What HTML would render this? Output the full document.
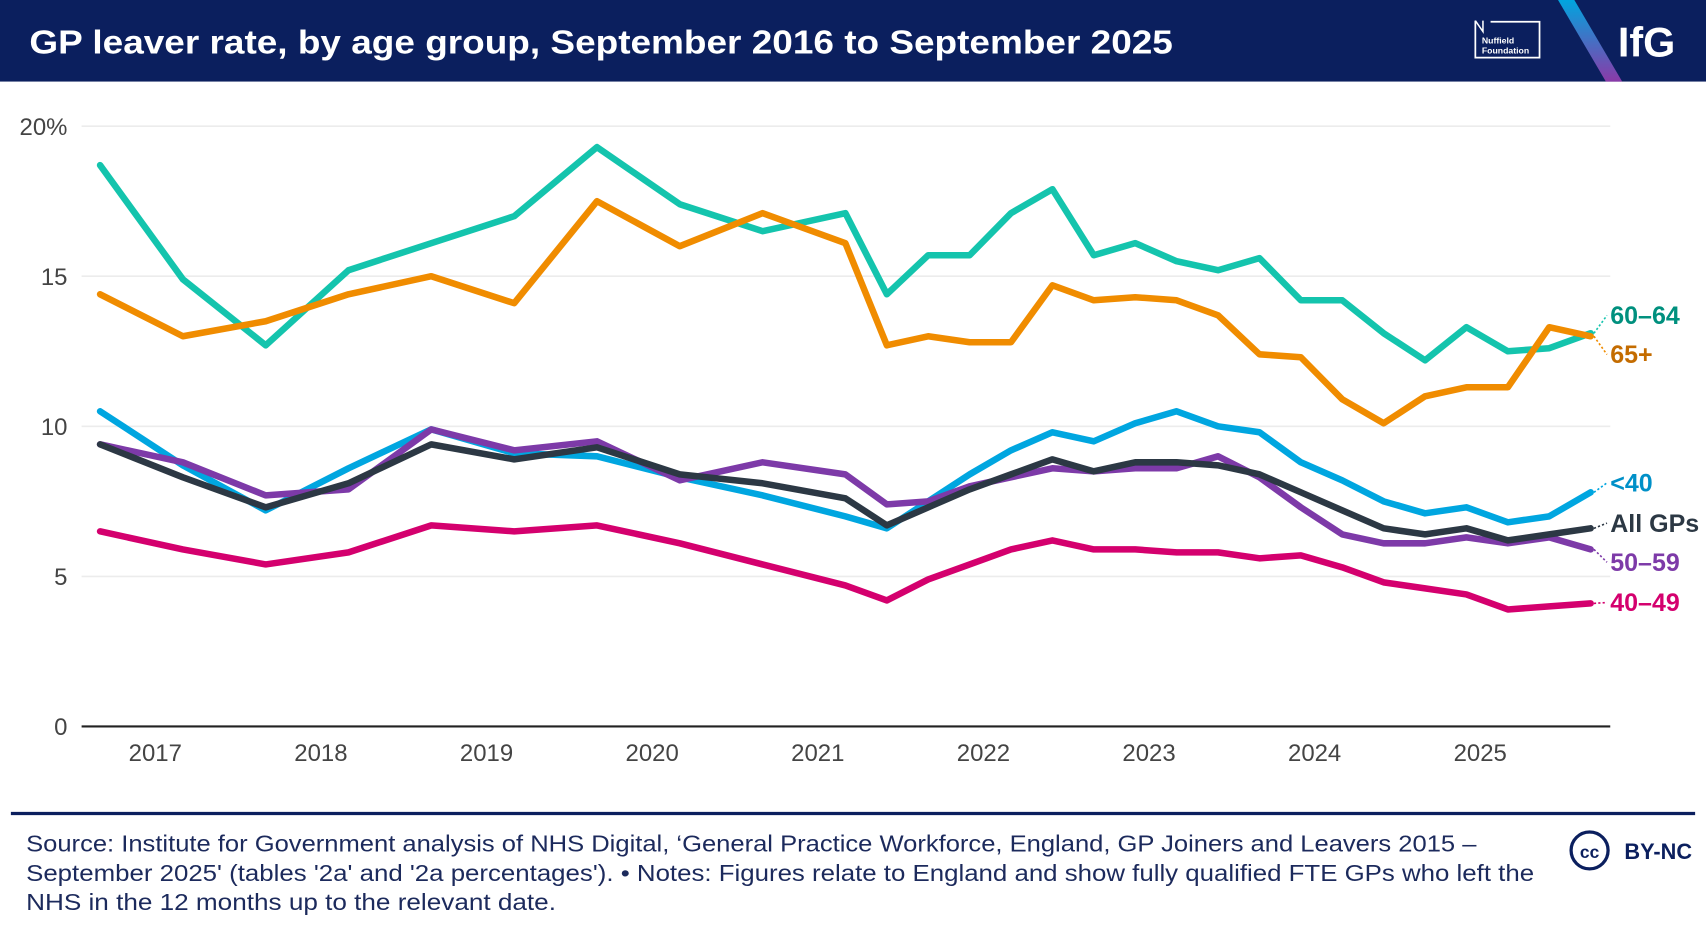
<!DOCTYPE html>
<html><head><meta charset="utf-8"><style>
html,body{margin:0;padding:0;background:#fff;}
svg{display:block;font-family:"Liberation Sans",sans-serif;}
</style></head><body>
<svg id="chart" width="1706" height="932" viewBox="0 0 1568 857" preserveAspectRatio="none" xmlns="http://www.w3.org/2000/svg">
<rect x="0" y="0" width="1568" height="75" fill="#0b1f5e"/>
<text x="27" y="49" fill="#fff" font-size="31" font-weight="bold" textLength="1051" lengthAdjust="spacingAndGlyphs">GP leaver rate, by age group, September 2016 to September 2025</text>
<g>
<path d="M1356 19 V53 H1415 V20 H1370" fill="none" stroke="#fff" stroke-width="1.6"/>
<path d="M1356 19 L1363 29 V19" fill="none" stroke="#fff" stroke-width="1.4"/>
<text x="1362" y="40" fill="#fff" font-size="8" font-weight="bold">Nuffield</text>
<text x="1362" y="49" fill="#fff" font-size="8" font-weight="bold">Foundation</text>
</g>
<defs><linearGradient id="g1" x1="0" y1="0" x2="0" y2="1"><stop offset="0" stop-color="#00a5df"/><stop offset="1" stop-color="#8a3aa8"/></linearGradient></defs>
<polygon points="1432,0 1447,0 1491,75 1476,75" fill="url(#g1)"/>
<text x="1487" y="52" fill="#fff" font-size="38" font-weight="bold">IfG</text>
<g id="grid"></g>
<g id="lines"></g>
<g id="labels"></g>
<line x1="10" y1="748" x2="1558" y2="748" stroke="#0b1f5e" stroke-width="3"/>
<g fill="#1c2a5c" font-size="21" lengthAdjust="spacingAndGlyphs">
<text x="24" y="783" textLength="1333" lengthAdjust="spacingAndGlyphs">Source: Institute for Government analysis of NHS Digital, ‘General Practice Workforce, England, GP Joiners and Leavers 2015 –</text>
<text x="24" y="810" textLength="1386" lengthAdjust="spacingAndGlyphs">September 2025' (tables '2a' and '2a percentages'). • Notes: Figures relate to England and show fully qualified FTE GPs who left the</text>
<text x="24" y="837" textLength="487" lengthAdjust="spacingAndGlyphs">NHS in the 12 months up to the relevant date.</text>
</g>
<g>
<circle cx="1461" cy="782" r="17" fill="none" stroke="#0b1f5e" stroke-width="3"/>
<text x="1461" y="789" text-anchor="middle" fill="#0b1f5e" font-size="16" font-weight="bold">cc</text>
<text x="1493" y="790" fill="#0b1f5e" font-size="20" font-weight="bold">BY-NC</text>
</g>
</svg>
<script>
const months = [0,6,12,18,24,30,36,42,48,54,57,60,63,66,69,72,75,78,81,84,87,90,93,96,99,102,105,108];
const yTicks = [0,5,10,15,20];
const yTickLabels = ["0","5","10","15","20%"];
const xYears = [2017,2018,2019,2020,2021,2022,2023,2024,2025];
const s6064 = [18.7,14.9,12.7,15.2,16.1,17.0,19.3,17.4,16.5,17.1,14.4,15.7,15.7,17.1,17.9,15.7,16.1,15.5,15.2,15.6,14.2,14.2,13.1,12.2,13.3,12.5,12.6,13.1];
const s65 = [14.4,13.0,13.5,14.4,15.0,14.1,17.5,16.0,17.1,16.1,12.7,13.0,12.8,12.8,14.7,14.2,14.3,14.2,13.7,12.4,12.3,10.9,10.1,11.0,11.3,11.3,13.3,13.0];
const sU40 = [10.5,8.7,7.2,8.6,9.9,9.1,9.0,8.3,7.7,7.0,6.6,7.5,8.4,9.2,9.8,9.5,10.1,10.5,10.0,9.8,8.8,8.2,7.5,7.1,7.3,6.8,7.0,7.8];
const sAll = [9.4,8.3,7.3,8.1,9.4,8.9,9.3,8.4,8.1,7.6,6.7,7.3,7.9,8.4,8.9,8.5,8.8,8.8,8.7,8.4,7.8,7.2,6.6,6.4,6.6,6.2,6.4,6.6];
const s5059 = [9.4,8.8,7.7,7.9,9.9,9.2,9.5,8.2,8.8,8.4,7.4,7.5,8.0,8.3,8.6,8.5,8.6,8.6,9.0,8.3,7.3,6.4,6.1,6.1,6.3,6.1,6.3,5.9];
const s4049 = [6.5,5.9,5.4,5.8,6.7,6.5,6.7,6.1,5.4,4.7,4.2,4.9,5.4,5.9,6.2,5.9,5.9,5.8,5.8,5.6,5.7,5.3,4.8,4.6,4.4,3.9,4.0,4.1];
const NS="http://www.w3.org/2000/svg";
const x = m => 92 + m*(1370/108);
const y = v => 668 - v*27.6;
function mk(tag, attrs, parent){const e=document.createElementNS(NS,tag);for(const k in attrs)e.setAttribute(k,attrs[k]);parent.appendChild(e);return e;}
const grid=document.getElementById('grid');
yTicks.forEach((t,i)=>{
  if(t>0){const gl=mk('line',{x1:75,x2:1480,y1:y(t),y2:y(t),stroke:'#ececec','stroke-width':1.5},grid);
  
  }
  const tl=mk('text',{x:62,y:y(t)+8,'text-anchor':'end','font-size':22,fill:'#444'},grid);
  tl.textContent=yTickLabels[i];
  
  
});
const ax=mk('line',{x1:75,x2:1480,y1:y(0),y2:y(0),stroke:'#222','stroke-width':2},grid);


xYears.forEach(yr=>{
  const m=(yr-2017)*12+4;
  const tl=mk('text',{x:x(m),y:700,'text-anchor':'middle','font-size':22,fill:'#444'},grid);
  tl.textContent=String(yr);
  
  
});
const series=[
 {d:s6064,c:'#14c4ad',lc:'#00907e',lab:'60–64',ly:290,n:'series-60-64'},
 {d:s65,c:'#f08c00',lc:'#c46c00',lab:'65+',ly:326,n:'series-65-plus'},
 {d:sU40,c:'#00a6e0',lc:'#0090c8',lab:'<40',ly:444,n:'series-under-40'},
 {d:s5059,c:'#7d3aa8',lc:'#7d3aa8',lab:'50–59',ly:517,n:'series-50-59'},
 {d:sAll,c:'#2c3844',lc:'#2c3844',lab:'All GPs',ly:481,n:'series-all-gps'},
 {d:s4049,c:'#d4006e',lc:'#d4006e',lab:'40–49',ly:554,n:'series-40-49'}
];
const lines=document.getElementById('lines'), labels=document.getElementById('labels');
series.forEach(s=>{
  const pts=s.d.map((v,i)=>x(months[i]).toFixed(1)+','+y(v).toFixed(1)).join(' ');
  const pl=mk('polyline',{points:pts,fill:'none',stroke:s.c,'stroke-width':6,'stroke-linejoin':'round','stroke-linecap':'round'},lines);
  
  
  const lx=x(months[months.length-1]), lyv=y(s.d[s.d.length-1]);
  const cn=mk('line',{x1:lx+3,y1:lyv,x2:1477,y2:s.ly,stroke:s.c,'stroke-width':1.5,'stroke-dasharray':'2,2'},labels);
  
  
  const t=mk('text',{x:1480,y:s.ly+8,'font-size':23,'font-weight':'bold',fill:s.lc},labels);
  t.textContent=s.lab;
  
  
});
</script>
</body></html>
